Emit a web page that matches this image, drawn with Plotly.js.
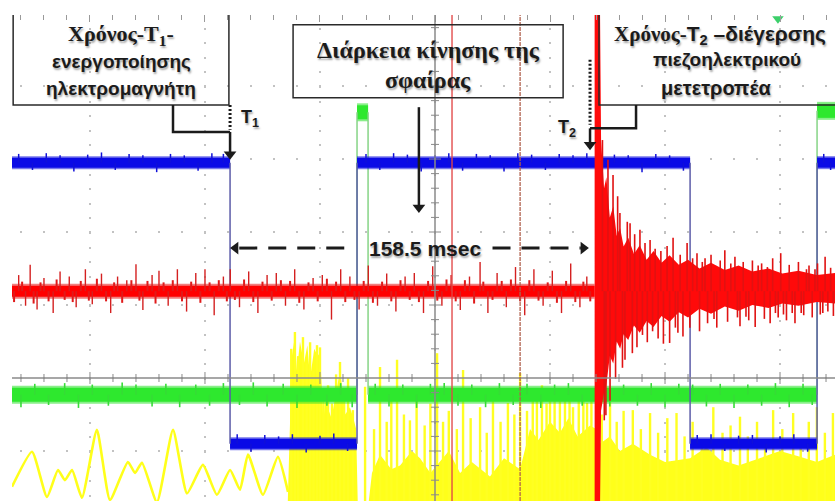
<!DOCTYPE html>
<html>
<head>
<meta charset="utf-8">
<script src="https://cdn.plot.ly/plotly-3.0.1.min.js"></script>
<style>
  html, body { margin: 0; padding: 0; background: #fff; }
  #scope { width: 835px; height: 501px; }
</style>
</head>
<body>
<div id="scope"></div>
<script>
// Time axis: milliseconds from screen centre (50 ms per division).
// Vertical axis: screen divisions from the centre line.
const X_RANGE = [-183.9, 173.9];
const Y_RANGE = [-1.685, 4.973];
const Y_FLOOR = -1.9;   // just below the visible bottom of the screen

const T1 = -89.1;               // electromagnet switched on (blue falling edge)
const DURATION = 158.5;         // ms, travel time of the ball
const T2 = T1 + DURATION;       // piezoelectric transducer excited

// Blue channel: electromagnet drive
const blueEdgeT  = [T1, -33.9, 110.9, 166.1];
const blueLevels = [2.95, -0.90, 2.95, -0.90, 2.95];
const blueNoiseT = [
  -181,-175,-169,-163,-157,-151,-145,-139,-133,-127,
  -121,-115,-109,-103,-97,-92,-86,-80,-74,-68,
  -62,-56,-50,-44,-38,-30,-24,-18,-12,-6,
  0,6,12,18,24,30,36,42,48,54,
  60,66,72,78,84,90,96,102,108,114,
  120,126,132,138,144,150,156,162,169,172];
const blueNoiseDy = [
  0.12,-0.1,0.13,0.1,-0.12,0.11,0.14,-0.1,0.12,0.1,
  -0.13,0.12,0.1,-0.11,0.13,0.12,0.13,-0.11,0.12,0.1,
  0.13,-0.12,0.11,0.14,-0.1,0.12,-0.1,0.13,0.11,-0.12,
  0.1,0.13,-0.11,0.12,0.1,-0.12,0.13,0.11,-0.1,0.12,
  0.1,0.13,-0.12,0.11,0.1,-0.13,0.12,0.1,-0.11,0.12,
  0.13,-0.1,0.11,0.12,-0.12,0.1,0.13,-0.11,0.12,-0.1];

// Green channel: light gate
const greenEdgeT  = [-33.9, -29.1, 166.1];
const greenLevels = [-0.23, 3.64, -0.23, 3.66];
const greenNoiseT = [
  -180,-174,-168,-161,-155,-149,-142,-136,-130,-123,
  -117,-111,-104,-98,-92,-85,-79,-73,-66,-60,
  -54,-47,-41,-36,-26,-20,-14,-8,-2,4,
  10,16,22,28,34,40,46,52,58,64,
  70,76,82,88,94,100,106,112,118,124,
  130,136,142,148,154,160,164];
const greenNoiseDy = [
  -0.17,0.15,-0.14,0.16,-0.18,0.14,-0.15,0.17,0.14,-0.16,
  0.15,-0.17,0.14,-0.15,0.16,-0.14,0.17,-0.16,0.15,-0.18,
  0.14,-0.15,0.16,-0.17,0.15,-0.16,0.14,-0.18,0.15,0.16,
  -0.15,0.14,-0.17,0.16,-0.14,0.15,-0.18,0.14,0.16,-0.15,
  0.17,-0.16,0.14,-0.15,0.16,-0.17,0.15,0.14,-0.16,0.15,
  -0.18,0.14,-0.15,0.16,-0.17,0.15,-0.14];

// Red channel: piezoelectric transducer
const redLevel = 1.19;
const redNoiseT = [
  -181,-178,-176,-173,-170,-166,-163,-159,-156,-152,
  -149,-145,-141,-138,-134,-130,-127,-123,-120,-116,
  -112,-108,-104,-100,-96,-92,-89,-85,-81,-77,
  -73,-69,-65,-61,-57,-53,-49,-45,-41,-37,
  -33,-29,-25,-21,-17,-13,-9,-5,-1,3,
  7,11,15,19.6,23,27,31,35,39,43,
  47,51,55,59,63,66];
const redNoiseDy = [
  0.22,-0.2,0.36,-0.25,0.18,-0.3,0.27,0.2,-0.22,0.3,
  -0.18,0.24,-0.3,0.2,0.15,0.37,-0.26,0.22,0.28,-0.2,
  0.3,-0.28,0.25,0.3,-0.33,0.2,0.3,-0.22,0.27,-0.3,
  0.22,0.25,-0.2,0.3,-0.25,0.18,0.22,-0.39,0.3,0.2,
  -0.25,0.35,-0.2,0.24,-0.28,0.2,0.25,-0.3,0.34,-0.2,
  0.22,-0.26,0.2,0.4,-0.3,0.25,-0.22,0.33,-0.33,0.3,
  -0.2,0.28,-0.3,0.38,-0.22,0.2];
const redFuzzT = [
  -183,-179.5,-174.5,-171.5,-168,-164.5,-161,-157.5,-154,-150.5,
  -147,-143,-139.5,-136,-132,-128.5,-125,-121.5,-118,-114,
  -110,-106,-102,-98,-94,-90.5,-87,-83,-79,-75,
  -71,-67,-63,-59,-55,-51,-47,-43,-39,-35,
  -31,-27,-23,-19,-15,-11,-7,-3,1,5,
  9,13,17,21,25,29,33,37,41,45,
  49,53,57,61,64.5,67.5];
const redFuzzDy = [
  -0.15,0.13,-0.17,0.12,-0.14,0.16,-0.12,-0.15,0.14,-0.13,
  0.17,-0.14,0.12,-0.16,0.15,-0.13,0.14,-0.17,0.12,0.15,
  -0.14,0.13,-0.16,0.12,0.15,-0.14,-0.12,0.16,-0.15,0.13,
  -0.13,0.15,0.14,-0.16,0.12,-0.14,0.17,0.13,-0.15,-0.12,
  0.14,-0.16,0.13,-0.14,0.15,-0.12,-0.15,0.14,-0.13,0.16,
  -0.14,0.15,-0.17,0.13,-0.12,0.14,0.16,-0.14,0.15,-0.13,
  0.12,-0.16,0.14,-0.15,0.13,-0.14];
// Ringing after the impact: dense core envelope and individual peaks
const redBurstT   = [T2, 71.7, 72.2, 73.5, 74.5, 76, 77.5, 79, 80.5, 82, 84, 86.5, 89, 92, 95,
                     98.5, 102, 106, 110, 115, 120, 126, 132, 138, 145, 151, 158, 166, 174];
const redBurstTop = [5.2, 5.2, 3.25, 2.6, 2.75, 2.2, 2.35, 1.95, 2.05, 1.8, 1.92, 1.7, 1.82, 1.62, 1.74,
                     1.58, 1.68, 1.55, 1.62, 1.5, 1.58, 1.48, 1.54, 1.46, 1.5, 1.43, 1.47, 1.41, 1.44];
const redBurstBot = [-1.9, -1.9, -0.45, -0.2, -0.1, 0.3, 0.2, 0.5, 0.4, 0.6, 0.52, 0.72, 0.62, 0.78, 0.7,
                     0.85, 0.77, 0.9, 0.83, 0.95, 0.88, 0.98, 0.92, 1.0, 0.96, 1.02, 0.99, 1.04, 1.02];
const redPeakT = [
  72.8,73.6,74.3,75.2,76.1,77.4,78.5,79.4,80.4,81.5,
  82.6,83.6,84.8,85.8,86.8,87.8,89.1,90.2,91.3,92.3,
  93.5,94.6,95.7,97,98.2,99.3,100.9,102,103.5,104.5,
  105.6,106.6,107.8,109.6,110.8,112,113.9,115,116.2,117.4,
  118.5,120,121.3,122.5,124,126,127.2,128.6,130.4,131.5,
  132.6,134,135.2,136.4,138,139.2,140.5,142,143.2,144.5,
  145.7,146.8,148,149.2,150.3,151.5,152.8,154,155.3,156.5,
  158,159.2,160.3,161.5,162.6,164,165.2,166.3,167.5,168.6,
  169.6,170.8,172,173.2];
const redPeakDy = [
  2.07,-1.77,-1.7,1.8,-1.5,1.59,-1.2,1.3,1.07,-1.05,
  -0.94,0.95,0.93,-0.85,0.78,-0.77,0.84,-0.6,0.66,-0.7,
  0.70,-0.55,0.58,-0.65,0.55,-0.72,0.62,-0.71,0.73,-0.5,
  -0.57,0.5,-0.62,0.66,-0.5,0.45,0.52,-0.55,0.4,0.45,
  -0.44,0.5,-0.38,-0.5,0.42,0.56,-0.42,0.38,0.47,-0.36,
  -0.48,0.4,-0.35,-0.4,0.42,-0.49,0.35,0.38,-0.38,0.33,
  -0.44,0.45,-0.3,-0.36,0.52,-0.32,-0.4,0.36,-0.3,-0.44,
  0.4,-0.3,-0.33,0.3,0.35,-0.36,0.3,0.38,-0.32,-0.3,
  0.47,-0.28,0.32,-0.34];

// Yellow channel: microphone
const yellowT = [-183.9,-175.2,-168.7,-163.9,-160.9,-157.8,-153.5,-147.0,-141.3,-133.5,-130.4,-127.4,
                 -120.9,-113.9,-107.8,-100.9,-94.8,-89.1,-84.8,-81.3,-74.8,-68.3,-63.9];
const yellowY = [-1.49,-1.01,-1.63,-1.26,-1.40,-1.26,-1.64,-0.71,-1.67,-1.15,-1.30,-1.16,
                 -1.70,-0.71,-1.58,-1.19,-1.60,-1.26,-1.53,-1.05,-1.60,-1.08,-1.56];
const yellowFillT = [-64,-62.2,-61,-60,-58.7,-57,-55.5,-54.3,-52.5,-51,-50,-48.5,-47.8,-45,-43,-41.3,-39,-37,-35.5,-34.3,
                     -33.6,-28.8,-27.4,-23.9,-19,-15.2,-10,-6.5,-2,2.2,6,10.9,16,23.9,30,37.0,41.3,45,
                     50,54.3,58,62,67.4,70.0,71.7,76,80.4,86,93.5,100,110.9,118,123.9,132,141.3,150,158.7,166,174];
const yellowFillY = [-1.69,0.3,0.55,0.1,0.5,0.2,0.45,0.0,0.4,0.3,0.35,-0.6,-0.3,-0.55,-0.2,0.1,-0.5,-0.4,-0.55,-0.7,
                     -1.69,-1.69,-1.3,-1.05,-1.25,-1.2,-1.0,-1.1,-1.3,-1.15,-1.0,-1.3,-1.15,-1.35,-1.1,-1.25,-0.7,-0.85,
                     -0.6,-0.75,-0.55,-0.8,-0.65,-0.7,-0.9,-0.8,-1.0,-0.9,-1.05,-1.15,-1.1,-0.95,-1.12,-1.2,-1.1,-1.0,-1.08,-1.15,-1.05];
const yellowSpikeT = [
  -62.5,-60.9,-59.5,-57.4,-55.8,-54.3,-52.8,-51.3,-50,-48.5,
  -46.5,-44.8,-43,-41.3,-39.5,-37.8,-35.7,-30.4,-26.5,-23.9,
  -21,-19,-16.5,-13.5,-10.9,-8,-4.5,-2,0.9,3.5,
  6,9.5,12.2,15.5,19.6,22.5,25.2,28.5,31.7,34.5,
  37,40,42.5,44.3,46.5,48.5,50,52,54.3,56.5,
  58.5,60,62.5,64.5,66.1,68,72.5,76.1,79,82,
  86,89.5,93.5,97,101,105,108.5,112,116,121,
  125,128.5,132.6,136,140,143.5,147,151,155.7,159,
  162.5,166,169.5,173];
const yellowSpikeTop = [
  0.4,0.63,0.3,0.56,0.2,0.49,0.1,0.45,0.42,-0.3,
  -0.1,-0.35,0.05,0.22,-0.2,0.0,-0.44,-0.12,-0.7,0.15,
  -0.6,-0.3,0.25,-0.5,-0.58,-0.2,-0.65,-0.35,0.34,-0.6,
  -0.45,-0.7,0.11,-0.55,-0.4,-0.75,-0.26,-0.6,-0.34,-0.5,
  0.07,-0.45,-0.2,-0.3,-0.1,-0.35,-0.16,-0.25,-0.3,-0.15,
  -0.28,-0.4,-0.2,-0.3,-0.34,-0.25,-0.5,-0.3,-0.6,-0.45,
  -0.44,-0.7,-0.48,-0.75,-0.55,-0.48,-0.8,-0.6,-0.85,-0.4,
  -0.75,-0.65,-0.53,-0.8,-0.6,-0.9,-0.44,-0.7,-0.48,-0.85,
  -0.6,-0.4,-0.75,-0.48];

// Measurement cursors and trigger position
const cursorT = [7.4, 37.0];
const triggerT = 149.1;

// ---------- helpers ----------
function levelAt(t, edges, levels) {
  let i = 0;
  while (i < edges.length && t >= edges[i]) i++;
  return levels[i];
}
function plateaus(edges, levels) {
  const b = [X_RANGE[0] - 2, ...edges, X_RANGE[1] + 2];
  const x = [], y = [];
  levels.forEach((L, i) => { x.push(b[i], b[i + 1], null); y.push(L, L, null); });
  return { x, y };
}
function transitions(edges, levels) {
  const x = [], y = [];
  edges.forEach((e, i) => { x.push(e, e, null); y.push(levels[i], levels[i + 1], null); });
  return { x, y };
}
function lineTrace(d, color, width) {
  return { type: 'scatter', mode: 'lines', x: d.x, y: d.y,
    line: { color: color, width: width }, hoverinfo: 'skip', connectgaps: false };
}
// Short vertical excursions drawn as asymmetric error bars about a base level.
function excursions(ts, bases, dys, color, thickness) {
  const n = Math.min(ts.length, dys.length);
  return { type: 'scatter', mode: 'markers', x: ts.slice(0, n), y: bases.slice(0, n),
    marker: { size: 1, color: 'rgba(0,0,0,0)' }, hoverinfo: 'skip',
    error_y: { type: 'data', symmetric: false, width: 0, thickness: thickness, color: color,
      array: dys.slice(0, n).map(d => Math.max(d, 0)),
      arrayminus: dys.slice(0, n).map(d => Math.max(-d, 0)) } };
}

const traces = [];

// Yellow
traces.push({ type: 'scatter', mode: 'lines', fill: 'toself', fillcolor: '#ffff1a',
  x: [yellowFillT[0], ...yellowFillT, yellowFillT[yellowFillT.length - 1]],
  y: [Y_FLOOR, ...yellowFillY, Y_FLOOR], line: { width: 0, color: '#ffff1a' }, hoverinfo: 'skip' });
traces.push(excursions(yellowSpikeT, yellowSpikeTop, yellowSpikeTop.map(v => Y_FLOOR - v), '#ffff22', 2.4));
traces.push({ type: 'scatter', mode: 'lines', x: yellowT, y: yellowY,
  line: { color: '#ffff1a', width: 2.6, shape: 'spline', smoothing: 0.5 }, hoverinfo: 'skip' });

// Green
const gPl = plateaus(greenEdgeT, greenLevels);
traces.push(lineTrace(gPl, 'rgba(40,225,40,0.55)', 18));
traces.push(lineTrace(gPl, '#2ee82e', 14));
traces.push(excursions(greenNoiseT, greenNoiseT.map(t => levelAt(t, greenEdgeT, greenLevels)), greenNoiseDy, '#36dc36', 1.6));
traces.push(lineTrace(transitions(greenEdgeT, greenLevels), '#86d486', 1.5));

// Blue
const bPl = plateaus(blueEdgeT, blueLevels);
traces.push(lineTrace(bPl, 'rgba(10,10,220,0.55)', 13));
traces.push(lineTrace(bPl, '#0a0ae6', 10));
traces.push(excursions(blueNoiseT, blueNoiseT.map(t => levelAt(t, blueEdgeT, blueLevels)), blueNoiseDy, '#1010d8', 1.5));
traces.push(lineTrace(transitions(blueEdgeT, blueLevels), '#5c5ca8', 1.5));

// Red
const rBase = { x: [X_RANGE[0] - 2, T2], y: [redLevel, redLevel] };
traces.push(lineTrace(rBase, 'rgba(225,0,0,0.5)', 15));
traces.push(lineTrace(rBase, '#ff0000', 11));
traces.push(excursions(redFuzzT, redFuzzT.map(() => redLevel), redFuzzDy, '#e01a1a', 2));
traces.push(excursions(redNoiseT, redNoiseT.map(() => redLevel), redNoiseDy, '#d42020', 1.4));
traces.push({ type: 'scatter', mode: 'lines', fill: 'toself', fillcolor: '#ff0a0a',
  x: [...redBurstT, ...redBurstT.slice().reverse()],
  y: [...redBurstTop, ...redBurstBot.slice().reverse()], line: { width: 0, color: '#ff0a0a' }, hoverinfo: 'skip' });
traces.push(excursions(redPeakT, redPeakT.map(() => redLevel), redPeakDy, '#e01212', 1.6));

// ---------- screen furniture ----------
const shapes = [];
const AX = '#8a8a8a';
shapes.push({ type: 'line', xref: 'x', yref: 'paper', x0: 0, x1: 0, y0: 0, y1: 1, line: { color: AX, width: 1.5 }, layer: 'above' });
shapes.push({ type: 'line', xref: 'paper', yref: 'y', x0: 0, x1: 1, y0: 0, y1: 0, line: { color: AX, width: 1.5 }, layer: 'above' });
for (let k = -18; k <= 17; k++) {
  if (k === 0) continue;
  const h = (k % 5 === 0) ? 6 : 4;
  shapes.push({ type: 'line', xref: 'x', yref: 'y', x0: k * 10, x1: k * 10, ysizemode: 'pixel', yanchor: 0,
    y0: -h, y1: h, line: { color: AX, width: 1 }, layer: 'above' });
}
for (let k = -8; k <= 24; k++) {
  if (k === 0) continue;
  const h = (k % 5 === 0) ? 6 : 4;
  shapes.push({ type: 'line', xref: 'x', yref: 'y', y0: k * 0.2, y1: k * 0.2, xsizemode: 'pixel', xanchor: 0,
    x0: -h, x1: h, line: { color: AX, width: 1 }, layer: 'above' });
}
cursorT.forEach((t, i) => shapes.push({ type: 'line', xref: 'x', yref: 'paper', x0: t, x1: t, y0: 0, y1: 1,
  line: { color: i === 0 ? 'rgba(225,70,70,0.9)' : 'rgba(175,95,75,0.85)', width: 1.5, dash: i === 0 ? 'solid' : '4px,1px' },
  layer: 'above' }));

// Callout boxes
const INK = '#1b1b1b';
const box = (x0, x1, y0, y1) => ({ type: 'rect', xref: 'x', yref: 'y', x0, x1, y0, y1,
  line: { color: '#2a2a2a', width: 1.5 }, fillcolor: 'rgba(255,255,255,0)', layer: 'above' });
shapes.push(box(-183.4, T1 - 0.5, 3.74, 5.4));
shapes.push(box(-61.7, 55.7, 3.84, 4.84));
shapes.push(box(71.3, 185, 3.74, 5.4));
// Leaders and arrow shafts
const seg = (x0, y0, x1, y1, width, dash) => ({ type: 'line', xref: 'x', yref: 'y', x0, y0, x1, y1,
  line: { color: INK, width: width, dash: dash || 'solid' }, layer: 'above' });
shapes.push({ type: 'path', xref: 'x', yref: 'y', path: `M -113.9,3.74 L -113.9,3.37 L ${T1},3.37`, line: { color: INK, width: 2.5 }, layer: 'above' });
shapes.push(seg(T1, 3.74, T1, 3.40, 3, '2px,2px'));
shapes.push(seg(T1, 3.37, T1, 3.06, 2.5));
shapes.push({ type: 'path', xref: 'x', yref: 'y', path: `M 87.4,3.74 L 87.4,3.42 L ${T2 - 2},3.42`, line: { color: INK, width: 2.5 }, layer: 'above' });
shapes.push(seg(T2 - 2, 4.36, T2 - 2, 3.47, 3, '2px,2px'));
shapes.push(seg(T2 - 2, 3.42, T2 - 2, 3.19, 2.5));
shapes.push(seg(-7.0, 3.71, -7.0, 2.33, 2.5));
// Dashed span T1 -> T2
const SPAN_Y = 1.78;
shapes.push(seg(T1 + 4, SPAN_Y, -35, SPAN_Y, 3, '18px,11px'));
shapes.push(seg(25, SPAN_Y, T2 - 6, SPAN_Y, 3, '18px,11px'));

// Arrow heads
traces.push({ type: 'scatter', mode: 'markers', hoverinfo: 'skip', cliponaxis: false,
  x: [T1, T2 - 2, -7.0, T1 + 2.4, T2 - 4.9],
  y: [3.065, 3.195, 2.335, SPAN_Y, SPAN_Y],
  marker: { size: 11, color: INK, symbol: ['triangle-down', 'triangle-down', 'triangle-down', 'triangle-left', 'triangle-right'],
            line: { width: 0 } } });
// Trigger marker
traces.push({ type: 'scatter', mode: 'markers', x: [triggerT], y: [4.92], cliponaxis: false,
  marker: { symbol: 'triangle-down', size: 10, color: '#3ccf6a' }, hoverinfo: 'skip' });

const SERIF = "'Liberation Serif', 'DejaVu Serif', serif";
const SANS = "'Liberation Sans', 'DejaVu Sans', sans-serif";
const SHADOW = '1px 2px 2px rgba(0,0,0,0.35)';
const txt = (x, y, text, family, size) => ({ x, y, xref: 'x', yref: 'y', text, showarrow: false,
  xanchor: 'center', yanchor: 'middle', font: { family, size, color: INK, weight: 'bold', shadow: SHADOW } });

const annotations = [
  txt(-136.5, 4.70, 'Χρόνος-Τ<sub>1</sub>-', SERIF, 22),
  txt(-136.5, 4.33, 'ενεργοποίησης', SANS, 19),
  txt(-136.5, 3.97, 'ηλεκτρομαγνήτη', SANS, 19),
  txt(-3.0, 4.49, 'Διάρκεια κίνησης της', SERIF, 24),
  txt(-3.0, 4.08, 'σφαίρας', SERIF, 24),
  txt(123.9, 4.70, `<span style="font-family:'Liberation Serif'">Χρόνος-</span>Τ<sub>2</sub> –διέγερσης`, SANS, 21),
  txt(127.0, 4.36, 'πιεζοηλεκτρικού', SANS, 19),
  txt(122.0, 3.97, 'μετετροπέα', SANS, 20),
  txt(-80.4, 3.56, 'T<sub>1</sub>', SANS, 18),
  txt(57.4, 3.42, 'T<sub>2</sub>', SANS, 18),
  txt(-4.3, SPAN_Y, `${DURATION} msec`, SANS, 21)
];

const layout = {
  width: 835, height: 501,
  margin: { l: 12, r: 0, t: 15, b: 0, pad: 0 },
  paper_bgcolor: '#ffffff', plot_bgcolor: '#ffffff',
  showlegend: false, hovermode: false,
  xaxis: {
    range: X_RANGE, side: 'top', showticklabels: false, zeroline: false, showline: false,
    tick0: 0, dtick: 50, ticks: 'inside', ticklen: 7, tickcolor: '#9a9a9a', tickwidth: 1,
    showgrid: true, gridcolor: '#c2c2c2', gridwidth: 2, griddash: '0px,12.6px,2px,0px',
    minor: { tick0: 0, dtick: 10, ticks: 'inside', ticklen: 5, tickcolor: '#9a9a9a', showgrid: false },
    fixedrange: true
  },
  yaxis: {
    range: Y_RANGE, showticklabels: false, zeroline: false, showline: false, ticks: '',
    tick0: 0, dtick: 1,
    showgrid: true, gridcolor: '#c2c2c2', gridwidth: 2, griddash: '0px,8px,2px,13px',
    fixedrange: true
  },
  shapes, annotations
};

Plotly.newPlot('scope', traces, layout, { staticPlot: true, displayModeBar: false });
</script>
</body>
</html>
